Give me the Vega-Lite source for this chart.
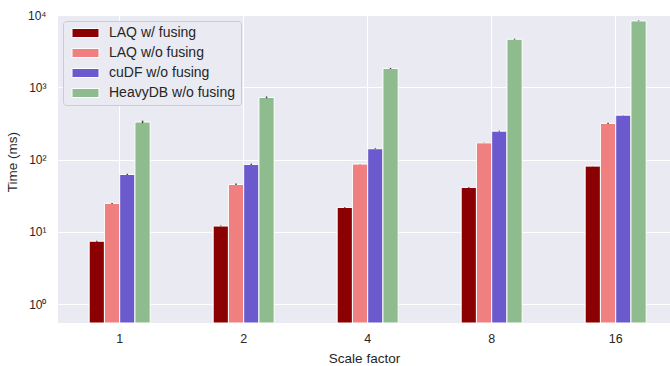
{
  "$schema": "https://vega.github.io/schema/vega-lite/v6.json",
  "width": 612,
  "height": 308,
  "autosize": {"type": "none"},
  "padding": {"left": 58, "top": 15, "right": 0, "bottom": 43},
  "background": "white",
  "data": {"values": [
    {"sf": "1", "series": "LAQ w/ fusing", "time": 7.4, "lo": 7.3, "hi": 7.5},
    {"sf": "1", "series": "LAQ w/o fusing", "time": 24.7, "lo": 24.3, "hi": 25.1},
    {"sf": "1", "series": "cuDF w/o fusing", "time": 62, "lo": 61, "hi": 63.5},
    {"sf": "1", "series": "HeavyDB w/o fusing", "time": 330, "lo": 318, "hi": 345},
    {"sf": "2", "series": "LAQ w/ fusing", "time": 12.0, "lo": 11.9, "hi": 12.2},
    {"sf": "2", "series": "LAQ w/o fusing", "time": 45.2, "lo": 44.3, "hi": 46.5},
    {"sf": "2", "series": "cuDF w/o fusing", "time": 85.5, "lo": 84, "hi": 87.5},
    {"sf": "2", "series": "HeavyDB w/o fusing", "time": 723, "lo": 705, "hi": 745},
    {"sf": "4", "series": "LAQ w/ fusing", "time": 21.7, "lo": 21.5, "hi": 22},
    {"sf": "4", "series": "LAQ w/o fusing", "time": 86.4, "lo": 86, "hi": 87},
    {"sf": "4", "series": "cuDF w/o fusing", "time": 141, "lo": 139, "hi": 143},
    {"sf": "4", "series": "HeavyDB w/o fusing", "time": 1820, "lo": 1790, "hi": 1850},
    {"sf": "8", "series": "LAQ w/ fusing", "time": 41.1, "lo": 40.8, "hi": 41.5},
    {"sf": "8", "series": "LAQ w/o fusing", "time": 170, "lo": 169, "hi": 171},
    {"sf": "8", "series": "cuDF w/o fusing", "time": 247, "lo": 244, "hi": 251},
    {"sf": "8", "series": "HeavyDB w/o fusing", "time": 4625, "lo": 4560, "hi": 4700},
    {"sf": "16", "series": "LAQ w/ fusing", "time": 81, "lo": 80.5, "hi": 81.6},
    {"sf": "16", "series": "LAQ w/o fusing", "time": 316, "lo": 311, "hi": 322},
    {"sf": "16", "series": "cuDF w/o fusing", "time": 411, "lo": 409, "hi": 413},
    {"sf": "16", "series": "HeavyDB w/o fusing", "time": 8280, "lo": 8200, "hi": 8400}
  ]},
  "encoding": {
    "x": {
      "field": "sf", "type": "nominal", "sort": ["1", "2", "4", "8", "16"],
      "scale": {"paddingInner": 0.508, "paddingOuter": 0.2217, "align": 0.567},
      "axis": {"title": "Scale factor", "labelAngle": 0, "grid": true, "bandPosition": 0.5, "labelPadding": 9, "titlePadding": 7, "labelFontSize": 12.5, "titleFontSize": 13.5}
    },
    "xOffset": {
      "field": "series", "type": "nominal",
      "sort": ["LAQ w/ fusing", "LAQ w/o fusing", "cuDF w/o fusing", "HeavyDB w/o fusing"],
      "scale": {"paddingInner": 0, "paddingOuter": 0}
    }
  },
  "layer": [
    {
      "mark": {"type": "bar", "stroke": "white", "strokeWidth": 1},
      "encoding": {
        "y": {
          "field": "time", "type": "quantitative", "stack": null,
          "scale": {"type": "log", "domain": [0.546, 10000], "nice": false},
          "axis": {
            "title": "Time (ms)", "values": [1, 10, 100, 1000, 10000],
            "labelExpr": "'10' + ['⁰','¹','²','³','⁴'][round(log(datum.value)/LN10)]",
            "labelPadding": 12, "titlePadding": 8, "titleY": 146.5, "titleFontSize": 13.5
          }
        },
        "y2": {"datum": 0.546},
        "color": {
          "field": "series", "type": "nominal",
          "scale": {
            "domain": ["LAQ w/ fusing", "LAQ w/o fusing", "cuDF w/o fusing", "HeavyDB w/o fusing"],
            "range": ["#8B0000", "#F08080", "#6A5ACD", "#8FBC8F"]
          },
          "legend": {
            "title": null, "orient": "none", "legendX": 5, "legendY": 6,
            "symbolType": "M-0.6,-0.9H4.8V0.9H-0.6Z", "symbolSize": 100,
            "symbolStrokeColor": "white", "symbolStrokeWidth": 1, "symbolOpacity": 1,
            "labelFontSize": 14, "labelOffset": 27, "rowPadding": 6,
            "padding": 5, "cornerRadius": 3, "strokeColor": "#cccccc", "fillColor": "#EAEAF2",
            "labelColor": "#262626", "labelFont": "Liberation Sans"
          }
        }
      }
    },
    {
      "mark": {"type": "rule", "color": "#424242", "strokeWidth": 1.5},
      "encoding": {
        "y": {"field": "lo", "type": "quantitative"},
        "y2": {"field": "hi"}
      }
    }
  ],
  "config": {
    "view": {"stroke": null, "fill": "#EAEAF2"},
    "axis": {
      "domain": false, "ticks": false, "gridColor": "white", "gridWidth": 1, "gridOpacity": 1,
      "labelFont": "Liberation Sans", "labelFontSize": 12, "labelColor": "#262626",
      "titleFont": "Liberation Sans", "titleFontSize": 13, "titleFontWeight": "normal", "titleColor": "#262626"
    }
  }
}
